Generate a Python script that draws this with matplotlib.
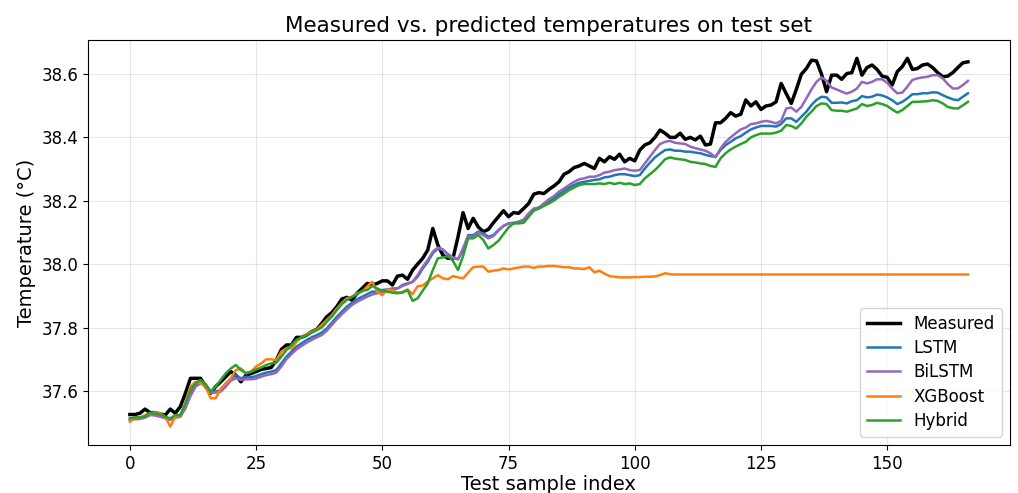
import matplotlib
matplotlib.use("Agg")
import matplotlib.pyplot as plt
import numpy as np

# measured core temperature and model predictions on the test samples
measured = [
    37.526, 37.526, 37.530, 37.543, 37.532, 37.532, 37.528, 37.524, 37.543, 37.530,
    37.551, 37.593, 37.640, 37.640, 37.640, 37.614, 37.593, 37.614, 37.629, 37.645,
    37.661, 37.650, 37.629, 37.650, 37.655, 37.661, 37.668, 37.671, 37.674, 37.697,
    37.731, 37.745, 37.745, 37.769, 37.769, 37.776, 37.787, 37.794, 37.813, 37.834,
    37.847, 37.866, 37.890, 37.895, 37.886, 37.908, 37.923, 37.939, 37.934, 37.939,
    37.947, 37.947, 37.934, 37.962, 37.965, 37.952, 37.981, 38.000, 38.018, 38.044,
    38.112, 38.060, 38.028, 38.018, 38.018, 38.086, 38.162, 38.112, 38.144, 38.117,
    38.102, 38.109, 38.130, 38.149, 38.168, 38.149, 38.162, 38.160, 38.175, 38.191,
    38.220, 38.225, 38.222, 38.235, 38.246, 38.259, 38.283, 38.291, 38.304, 38.309,
    38.317, 38.309, 38.301, 38.333, 38.322, 38.338, 38.330, 38.346, 38.322, 38.333,
    38.325, 38.359, 38.375, 38.382, 38.399, 38.422, 38.412, 38.399, 38.399, 38.412,
    38.393, 38.399, 38.391, 38.403, 38.375, 38.378, 38.445, 38.445, 38.459, 38.477,
    38.466, 38.472, 38.517, 38.498, 38.511, 38.487, 38.498, 38.501, 38.511, 38.569,
    38.537, 38.506, 38.550, 38.598, 38.616, 38.642, 38.640, 38.598, 38.543, 38.595,
    38.595, 38.582, 38.600, 38.603, 38.648, 38.595, 38.619, 38.627, 38.613, 38.592,
    38.588, 38.564, 38.606, 38.622, 38.648, 38.613, 38.616, 38.627, 38.630, 38.619,
    38.603, 38.590, 38.592, 38.603, 38.619, 38.634, 38.637,
]

lstm = [
    37.511, 37.513, 37.514, 37.519, 37.528, 37.527, 37.522, 37.517, 37.511, 37.519,
    37.521, 37.551, 37.593, 37.619, 37.629, 37.622, 37.598, 37.598, 37.603, 37.624,
    37.640, 37.650, 37.640, 37.645, 37.643, 37.647, 37.653, 37.658, 37.661, 37.666,
    37.687, 37.708, 37.724, 37.740, 37.750, 37.761, 37.769, 37.776, 37.784, 37.797,
    37.815, 37.834, 37.850, 37.866, 37.878, 37.889, 37.897, 37.905, 37.913, 37.913,
    37.918, 37.920, 37.923, 37.923, 37.934, 37.939, 37.944, 37.960, 37.986, 38.007,
    38.034, 38.049, 38.044, 38.031, 38.021, 38.015, 38.044, 38.091, 38.091, 38.102,
    38.097, 38.086, 38.091, 38.107, 38.120, 38.128, 38.130, 38.133, 38.139, 38.157,
    38.172, 38.175, 38.186, 38.196, 38.207, 38.220, 38.231, 38.241, 38.249, 38.256,
    38.259, 38.262, 38.265, 38.267, 38.273, 38.275, 38.280, 38.283, 38.283, 38.280,
    38.277, 38.280, 38.301, 38.319, 38.336, 38.348, 38.359, 38.361, 38.357, 38.357,
    38.354, 38.354, 38.351, 38.349, 38.344, 38.340, 38.338, 38.359, 38.375, 38.385,
    38.396, 38.403, 38.414, 38.424, 38.430, 38.435, 38.435, 38.435, 38.433, 38.441,
    38.459, 38.459, 38.448, 38.464, 38.480, 38.501, 38.517, 38.527, 38.525, 38.508,
    38.508, 38.509, 38.506, 38.513, 38.516, 38.529, 38.525, 38.527, 38.534, 38.531,
    38.525, 38.516, 38.504, 38.511, 38.522, 38.535, 38.535, 38.538, 38.538, 38.541,
    38.540, 38.532, 38.525, 38.519, 38.516, 38.527, 38.538,
]

bilstm = [
    37.509, 37.511, 37.512, 37.516, 37.524, 37.523, 37.519, 37.514, 37.509, 37.516,
    37.519, 37.545, 37.584, 37.614, 37.624, 37.619, 37.595, 37.595, 37.598, 37.614,
    37.633, 37.640, 37.635, 37.637, 37.637, 37.639, 37.645, 37.650, 37.653, 37.658,
    37.677, 37.700, 37.716, 37.731, 37.742, 37.752, 37.761, 37.769, 37.776, 37.790,
    37.808, 37.826, 37.842, 37.857, 37.871, 37.881, 37.889, 37.897, 37.904, 37.908,
    37.913, 37.916, 37.920, 37.923, 37.931, 37.937, 37.944, 37.965, 37.991, 38.013,
    38.039, 38.052, 38.046, 38.031, 38.021, 38.015, 38.050, 38.088, 38.086, 38.099,
    38.091, 38.081, 38.088, 38.105, 38.120, 38.128, 38.128, 38.133, 38.140, 38.160,
    38.175, 38.178, 38.191, 38.204, 38.214, 38.228, 38.238, 38.249, 38.259, 38.267,
    38.270, 38.275, 38.275, 38.280, 38.288, 38.291, 38.296, 38.298, 38.301, 38.296,
    38.294, 38.296, 38.317, 38.338, 38.359, 38.378, 38.385, 38.388, 38.382, 38.380,
    38.378, 38.370, 38.365, 38.361, 38.357, 38.349, 38.336, 38.364, 38.385, 38.399,
    38.412, 38.424, 38.430, 38.441, 38.443, 38.448, 38.451, 38.448, 38.443, 38.451,
    38.490, 38.493, 38.480, 38.495, 38.522, 38.550, 38.574, 38.588, 38.577, 38.556,
    38.550, 38.543, 38.537, 38.543, 38.553, 38.574, 38.569, 38.574, 38.582, 38.582,
    38.571, 38.553, 38.538, 38.540, 38.559, 38.580, 38.585, 38.588, 38.590, 38.595,
    38.595, 38.585, 38.567, 38.553, 38.553, 38.564, 38.577,
]

xgboost = [
    37.503, 37.517, 37.517, 37.524, 37.530, 37.533, 37.530, 37.519, 37.488, 37.519,
    37.524, 37.561, 37.614, 37.629, 37.624, 37.614, 37.577, 37.577, 37.608, 37.624,
    37.640, 37.666, 37.671, 37.656, 37.661, 37.677, 37.687, 37.700, 37.700, 37.697,
    37.724, 37.734, 37.734, 37.755, 37.769, 37.779, 37.787, 37.794, 37.808, 37.824,
    37.839, 37.860, 37.878, 37.892, 37.897, 37.908, 37.913, 37.929, 37.944, 37.913,
    37.902, 37.920, 37.918, 37.910, 37.912, 37.920, 37.905, 37.930, 37.932, 37.945,
    37.955, 37.965, 37.955, 37.952, 37.962, 37.958, 37.955, 37.973, 37.990, 37.992,
    37.992, 37.976, 37.979, 37.981, 37.986, 37.983, 37.986, 37.989, 37.992, 37.992,
    37.988, 37.992, 37.992, 37.994, 37.994, 37.992, 37.990, 37.990, 37.986, 37.986,
    37.984, 37.990, 37.974, 37.979, 37.970, 37.962, 37.960, 37.958, 37.958, 37.958,
    37.959, 37.959, 37.960, 37.960, 37.961, 37.965, 37.971, 37.968, 37.967, 37.967,
    37.967, 37.967, 37.967, 37.967, 37.967, 37.967, 37.967, 37.967, 37.967, 37.967,
    37.967, 37.967, 37.967, 37.967, 37.967, 37.967, 37.967, 37.967, 37.967, 37.967,
    37.967, 37.967, 37.967, 37.967, 37.967, 37.967, 37.967, 37.967, 37.967, 37.967,
    37.967, 37.967, 37.967, 37.967, 37.967, 37.967, 37.967, 37.967, 37.967, 37.967,
    37.967, 37.967, 37.967, 37.967, 37.967, 37.967, 37.967, 37.967, 37.967, 37.967,
    37.967, 37.967, 37.967, 37.967, 37.967, 37.967, 37.967,
]

hybrid = [
    37.514, 37.517, 37.517, 37.519, 37.532, 37.530, 37.526, 37.519, 37.514, 37.524,
    37.524, 37.561, 37.603, 37.624, 37.635, 37.619, 37.598, 37.614, 37.635, 37.656,
    37.671, 37.682, 37.666, 37.656, 37.661, 37.668, 37.674, 37.682, 37.687, 37.689,
    37.708, 37.729, 37.745, 37.761, 37.769, 37.776, 37.784, 37.792, 37.800, 37.818,
    37.834, 37.855, 37.874, 37.887, 37.897, 37.905, 37.916, 37.918, 37.931, 37.923,
    37.916, 37.913, 37.910, 37.908, 37.910, 37.918, 37.884, 37.892, 37.916, 37.939,
    37.981, 38.018, 38.021, 38.025, 38.010, 37.981, 38.025, 38.081, 38.081, 38.091,
    38.076, 38.049, 38.060, 38.073, 38.094, 38.115, 38.128, 38.128, 38.130, 38.149,
    38.168, 38.175, 38.183, 38.191, 38.200, 38.212, 38.222, 38.233, 38.241, 38.249,
    38.252, 38.252, 38.252, 38.254, 38.252, 38.256, 38.252, 38.256, 38.252, 38.254,
    38.249, 38.252, 38.270, 38.283, 38.296, 38.312, 38.330, 38.336, 38.332, 38.330,
    38.328, 38.322, 38.320, 38.317, 38.315, 38.309, 38.306, 38.333, 38.349, 38.361,
    38.370, 38.378, 38.385, 38.399, 38.406, 38.411, 38.411, 38.411, 38.414, 38.420,
    38.438, 38.435, 38.427, 38.443, 38.464, 38.480, 38.498, 38.506, 38.504, 38.485,
    38.483, 38.483, 38.480, 38.485, 38.490, 38.504, 38.498, 38.501, 38.508, 38.504,
    38.498, 38.487, 38.477, 38.485, 38.498, 38.511, 38.511, 38.512, 38.513, 38.516,
    38.514, 38.506, 38.495, 38.491, 38.490, 38.500, 38.511,
]

idx = np.arange(len(measured))

fig, ax = plt.subplots(figsize=(10.18, 4.93), dpi=100)
fig.subplots_adjust(left=0.0864, right=0.992, bottom=0.0974, top=0.919)

ax.plot(idx, measured, color="black", linewidth=2.5, label="Measured")
ax.plot(idx, lstm, color="tab:blue", linewidth=1.8, label="LSTM")
ax.plot(idx, bilstm, color="tab:purple", linewidth=1.8, label="BiLSTM")
ax.plot(idx, xgboost, color="tab:orange", linewidth=1.8, label="XGBoost")
ax.plot(idx, hybrid, color="tab:green", linewidth=1.8, label="Hybrid")

ax.set_title("Measured vs. predicted temperatures on test set", fontsize=15.5)
ax.set_xlabel("Test sample index", fontsize=14, labelpad=2)
ax.set_ylabel("Temperature (°C)", fontsize=14)
ax.tick_params(labelsize=12)
ax.grid(True, alpha=0.3)
ax.legend(loc="lower right", fontsize=12, labelspacing=0.38)

plt.savefig("out.png")
